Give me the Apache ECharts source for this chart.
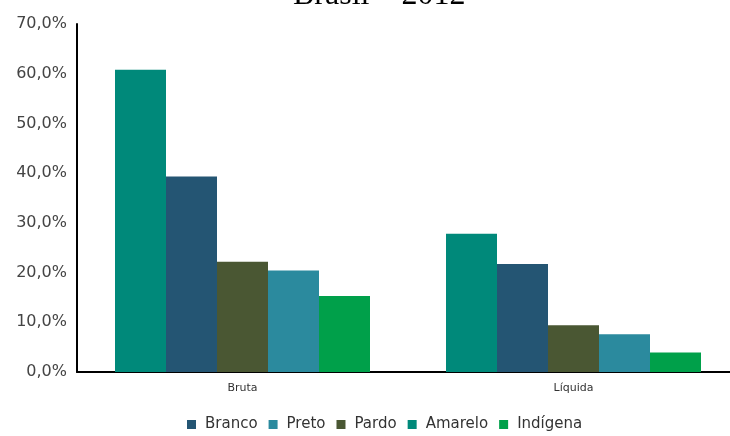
<!DOCTYPE html>
<html>
<head>
<meta charset="utf-8">
<script src="https://cdn.jsdelivr.net/npm/echarts@6/dist/echarts.min.js"></script>
<style>html,body{margin:0;padding:0;background:#fff;overflow:hidden}#c{width:740px;height:436px}</style>
</head>
<body>
<div id="c"></div>
<script>
var categories = ['Bruta', 'Líquida'];
var seriesNames = ['Amarelo', 'Branco', 'Pardo', 'Preto', 'Indígena'];
var legendOrder = ['Branco', 'Preto', 'Pardo', 'Amarelo', 'Indígena'];
var amarelo = [60.8, 27.8];
var branco = [39.3, 21.7];
var pardo = [22.2, 9.4];
var preto = [20.4, 7.6];
var indigena = [15.3, 3.9];
var colors = ['#00897a', '#245573', '#4a5733', '#2b8a9e', '#00a04a'];
var values = [amarelo, branco, pardo, preto, indigena];

var chart = echarts.init(document.getElementById('c'));
chart.setOption({
  animation: false,
  title: {
    text: 'Brasil – 2012',
    left: 293,
    top: -20,
    padding: 0,
    textStyle: { fontFamily: 'Liberation Serif', fontSize: 32, fontWeight: 'normal', color: '#000' }
  },
  legend: {
    data: legendOrder,
    bottom: 4,
    left: 187,
    padding: 0,
    itemWidth: 9,
    itemHeight: 9,
    itemGap: 11,
    icon: 'rect',
    textStyle: { fontFamily: 'DejaVu Sans', fontSize: 15, color: '#333', padding: [0, 0, 0, 4] }
  },
  grid: { left: 77, top: 24, width: 662, bottom: 64 },
  xAxis: {
    type: 'category',
    data: categories,
    axisLine: { lineStyle: { color: '#000', width: 2 } },
    axisTick: { show: false },
    axisLabel: { fontFamily: 'DejaVu Sans', fontSize: 11, color: '#333', margin: 11 }
  },
  yAxis: {
    type: 'value',
    min: 0, max: 70, interval: 10,
    axisLine: { show: true, lineStyle: { color: '#000', width: 2 } },
    axisTick: { show: false },
    splitLine: { show: false },
    axisLabel: {
      fontFamily: 'DejaVu Sans', fontSize: 16, color: '#444', margin: 10,
      formatter: function (v) { return v.toFixed(1).replace('.', ',') + '%'; }
    }
  },
  series: seriesNames.map(function (n, i) {
    return {
      name: n, type: 'bar', data: values[i], barWidth: 51, barGap: '0%',
      itemStyle: { color: colors[i] }
    };
  })
});
</script>
</body>
</html>
